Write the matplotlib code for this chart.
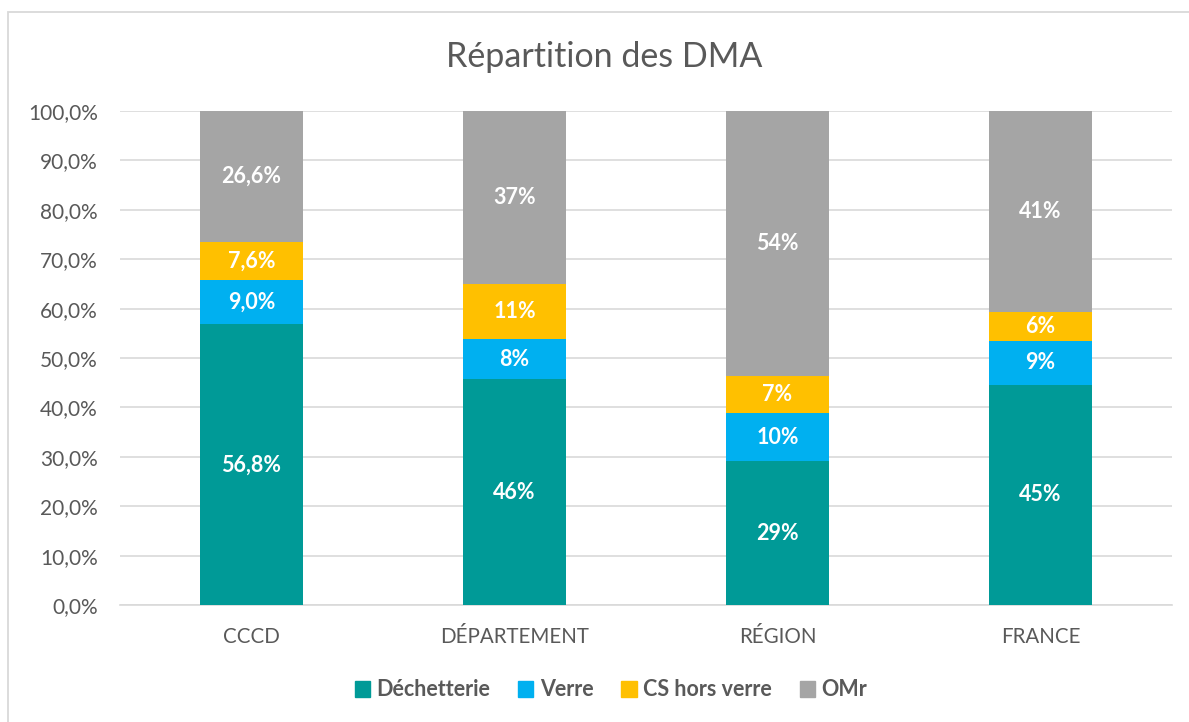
import matplotlib
matplotlib.use("Agg")
import matplotlib.pyplot as plt
from matplotlib.patches import Patch, Rectangle
import numpy as np

categories = ["CCCD", "DÉPARTEMENT", "RÉGION", "FRANCE"]
series_names = ["Déchetterie", "Verre", "CS hors verre", "OMr"]
# shares (%)
dechetterie = [56.8, 45.7, 29.1, 44.6]
verre = [9.0, 8.1, 9.8, 8.9]
cs_hors_verre = [7.6, 11.2, 7.5, 5.9]
omr = [26.6, 35.0, 53.6, 40.6]
# data labels as printed on the chart
lab_dechetterie = ["56,8%", "46%", "29%", "45%"]
lab_verre = ["9,0%", "8%", "10%", "9%"]
lab_cs = ["7,6%", "11%", "7%", "6%"]
lab_omr = ["26,6%", "37%", "54%", "41%"]
y_ticks = [0, 10, 20, 30, 40, 50, 60, 70, 80, 90, 100]

colors = ["#009A97", "#00B0F0", "#FFC000", "#A5A5A5"]
txt_grey = "#595959"

plt.rcParams["font.family"] = ["Lato", "DejaVu Sans"]

fig = plt.figure(figsize=(11.89, 7.22), dpi=100)
ax = fig.add_axes([120/1189, 1 - 605/722, (1172-120)/1189, (605-111)/722])

series = [dechetterie, verre, cs_hors_verre, omr]
labels = [lab_dechetterie, lab_verre, lab_cs, lab_omr]
x = np.arange(len(categories))
bottom = np.zeros(len(categories))
width = 0.395
for vals, labs, col in zip(series, labels, colors):
    vals = np.array(vals, dtype=float)
    ax.bar(x, vals, width, bottom=bottom, color=col, zorder=3)
    for xi, b, v, t in zip(x, bottom, vals, labs):
        ax.text(xi, b + v/2, t, ha="center", va="center", color="white",
                fontsize=15.5, fontweight="bold", zorder=4)
    bottom += vals

ax.set_xlim(-0.5, len(categories) - 0.5)
ax.set_ylim(0, 100)
ax.set_yticks(y_ticks)
ax.set_yticklabels([f"{v:.1f}%".replace(".", ",") for v in y_ticks])
ax.set_xticks(x)
ax.set_xticklabels(categories)
ax.tick_params(axis="y", length=0, pad=16, labelsize=15, labelcolor=txt_grey)
ax.tick_params(axis="x", length=0, pad=16, labelsize=14.8, labelcolor=txt_grey)
ax.grid(axis="y", color="#D9D9D9", linewidth=1.2, zorder=0)
for s in ["top", "right", "left"]:
    ax.spines[s].set_visible(False)
ax.spines["bottom"].set_color("#D9D9D9")
ax.spines["bottom"].set_linewidth(1.2)

fig.text(604/1189, 1 - 57/722, "Répartition des DMA", ha="center", va="center",
         fontsize=24.5, color=txt_grey)

handles = [Patch(facecolor=c, edgecolor=c) for c in colors]
leg = fig.legend(handles, series_names, loc="center", bbox_to_anchor=(611/1189, 1 - 690/722),
                 ncol=4, frameon=False, handlelength=0.7, handleheight=0.7,
                 handletextpad=0.3, columnspacing=1.3,
                 prop={"size": 15.5, "weight": "bold"})
for t in leg.get_texts():
    t.set_color(txt_grey)

fig.patches.append(Rectangle((8/1189, -10/722), (1200-8)/1189, (710+10)/722,
                             transform=fig.transFigure, fill=False,
                             edgecolor="#D9D9D9", linewidth=1.3))

fig.savefig("out.png", dpi=100, facecolor="white")
